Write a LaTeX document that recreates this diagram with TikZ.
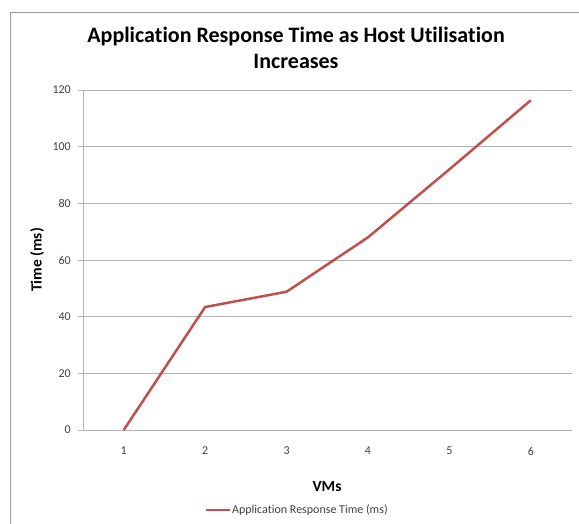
\documentclass[tikz,border=0pt]{standalone}
\usepackage{fontspec}
\setmainfont[Ligatures=NoCommon]{Carlito}
\definecolor{gridgray}{HTML}{B3B3B3}
\definecolor{framegray}{HTML}{9A9A9A}
\definecolor{serred}{HTML}{C0504D}
\definecolor{ticktxt}{HTML}{404040}
\tikzset{
  gridline/.style={draw=gridgray, line width=0.9pt},
  ticklbl/.style={font=\fontsize{12}{14}\selectfont, text=ticktxt, inner sep=0pt},
  axislbl/.style={font=\fontsize{15.5}{18}\selectfont\bfseries, inner sep=0pt},
  series/.style={draw=serred, line width=2.5pt, line join=round}
}
\begin{document}
\begin{tikzpicture}[x=1pt,y=-1pt]
\useasboundingbox (0,0) rectangle (579,523);
\clip (0,0) rectangle (579,523);
% chart frame (cropped at right and bottom)
\draw[framegray, line width=1pt] (10,600) -- (10,12) -- (640,12);
% title
\node[font=\fontsize{22}{26}\selectfont\bfseries, align=center, inner sep=0pt] (title) at (296,48)
  {Application Response Time as Host Utilisation\\Increases};
% horizontal gridlines and y ticks
\foreach \v/\lab in {0/0,20/20,40/40,60/60,80/80,100/100,120/120}{
  \draw[gridline] (78,{430-2.8333*\v}) -- (571.5,{430-2.8333*\v});
  \node[ticklbl, anchor=east] (yl\v) at (71,{430-2.8333*\v}) {\lab};
}
% left axis
\draw[gridline] (83,90) -- (83,430);
% x tick labels
\foreach \i in {1,...,6}{
  \node[ticklbl] (xl\i) at ({83+(\i-0.5)*81.42},451) {\i};
}
% axis titles
\node[axislbl] (xtitle) at (327,487) {VMs};
\node[axislbl, rotate=90] (ytitle) at (37,260) {Time (ms)};
% data series
\coordinate (p1) at ({83+0.5*81.42},{430-2.8333*0});
\coordinate (p2) at ({83+1.5*81.42},{430-2.8333*43.4});
\coordinate (p3) at ({83+2.5*81.42},{430-2.8333*48.8});
\coordinate (p4) at ({83+3.5*81.42},{430-2.8333*68.0});
\coordinate (p5) at ({83+4.5*81.42},{430-2.8333*92.0});
\coordinate (p6) at ({83+5.5*81.42},{430-2.8333*116.4});
\draw[series] (p1) -- (p2) -- (p3) -- (p4) -- (p5) -- (p6);
% legend
\coordinate (lg1) at (206,510);
\coordinate (lg2) at (230,510);
\draw[series] (lg1) -- (lg2);
\node[font=\fontsize{12}{14}\selectfont, text=ticktxt, anchor=west, inner sep=0pt] (legend) at (232,510) {Application Response Time (ms)};
\end{tikzpicture}
\end{document}
